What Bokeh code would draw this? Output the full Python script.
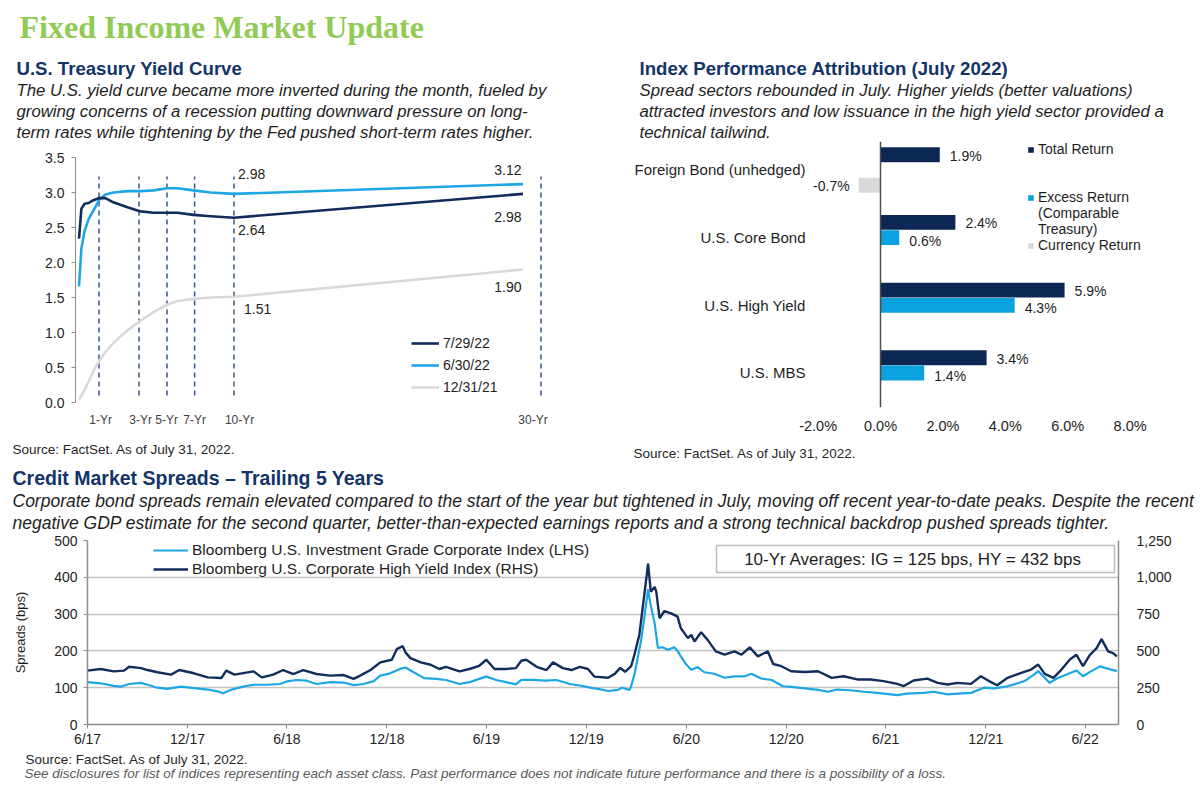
import datetime as dt
import pandas as pd
from bokeh.plotting import figure
from bokeh.layouts import column, row
from bokeh.models import (ColumnDataSource, Title, Legend, LegendItem, FixedTicker, Span,
                          LinearAxis, Range1d, NumeralTickFormatter, PrintfTickFormatter,
                          Label, BoxAnnotation)
from bokeh.core.properties import value
from bokeh.embed import file_html
from bokeh.resources import INLINE

# ---------------------------------------------------------------- data
# U.S. Treasury yield curve (x = position along the chart's maturity axis)
curve_pos = [0, 0.12, 0.28, 0.48, 0.72, 1.02, 1.32, 1.72, 2.42, 3.08, 3.72, 4.42, 4.92, 5.72, 6.58, 7.75, 22.2]
yc_072922 = [2.34, 2.77, 2.84, 2.85, 2.89, 2.92, 2.92, 2.86, 2.79, 2.73, 2.71, 2.71, 2.71, 2.68, 2.66, 2.64, 2.98]
yc_063022 = [1.66, 2.20, 2.45, 2.62, 2.74, 2.90, 2.97, 3.00, 3.02, 3.02, 3.03, 3.06, 3.06, 3.03, 3.00, 2.98, 3.12]
yc_123121 = [0.04, 0.10, 0.18, 0.30, 0.45, 0.60, 0.72, 0.85, 1.03, 1.17, 1.29, 1.40, 1.45, 1.48, 1.50, 1.51, 1.90]
curve_names = ["7/29/22", "6/30/22", "12/31/21"]
tenor_labels = ["1-Yr", "3-Yr", "5-Yr", "7-Yr", "10-Yr", "30-Yr"]
tenor_pos = [1.0, 3.0, 4.4, 5.78, 7.75, 23.1]          # dashed marker lines
tenor_label_pos = [1.08, 3.08, 4.38, 5.78, 8.03, 22.7]  # where the axis labels sit
labelled_points = [15, 16]          # 10-Yr and 30-Yr points carry value labels
yc_ticks = [0.0, 0.5, 1.0, 1.5, 2.0, 2.5, 3.0, 3.5]

# Index performance attribution (July 2022), %
categories = ["Foreign Bond (unhedged)", "U.S. Core Bond", "U.S. High Yield", "U.S. MBS"]
total_return = [1.9, 2.4, 5.9, 3.4]
excess_return = [None, 0.6, 4.3, 1.4]
currency_return = [-0.7, None, None, None]
attr_ticks = [-2, 0, 2, 4, 6, 8]

# Credit market spreads (bps)
ig_dates = ["2017-06-01", "2017-06-25", "2017-07-19", "2017-08-01", "2017-08-16", "2017-09-07", "2017-09-19",
            "2017-10-07", "2017-10-25", "2017-11-19", "2017-12-13", "2018-01-07", "2018-01-25", "2018-02-04",
            "2018-02-18", "2018-03-13", "2018-04-01", "2018-04-25", "2018-05-19", "2018-06-01", "2018-06-19",
            "2018-07-07", "2018-07-25", "2018-08-19", "2018-09-13", "2018-10-01", "2018-10-19", "2018-11-07",
            "2018-11-19", "2018-12-07", "2018-12-25", "2019-01-04", "2019-01-19", "2019-02-07", "2019-03-01",
            "2019-03-19", "2019-04-13", "2019-05-01", "2019-05-19", "2019-06-01", "2019-06-19", "2019-07-07",
            "2019-07-25", "2019-08-04", "2019-08-25", "2019-09-19", "2019-10-07", "2019-11-01", "2019-11-19",
            "2019-12-13", "2019-12-25", "2020-01-10", "2020-01-28", "2020-02-04", "2020-02-18", "2020-02-21",
            "2020-02-27", "2020-03-04", "2020-03-10", "2020-03-16", "2020-03-23", "2020-03-26", "2020-03-31",
            "2020-04-04", "2020-04-10", "2020-04-19", "2020-04-28", "2020-05-10", "2020-05-16", "2020-05-22",
            "2020-06-01", "2020-06-10", "2020-06-22", "2020-07-04", "2020-07-22", "2020-08-10", "2020-08-28",
            "2020-09-16", "2020-09-28", "2020-10-16", "2020-11-04", "2020-11-25", "2020-12-10", "2021-01-04",
            "2021-01-28", "2021-02-15", "2021-03-04", "2021-03-28", "2021-04-22", "2021-05-16", "2021-06-10",
            "2021-06-22", "2021-07-10", "2021-08-10", "2021-08-28", "2021-09-22", "2021-10-10", "2021-11-04",
            "2021-11-28", "2021-12-16", "2022-01-04", "2022-01-22", "2022-02-10", "2022-02-28", "2022-03-07",
            "2022-03-19", "2022-03-28", "2022-04-10", "2022-04-28", "2022-05-16", "2022-05-28", "2022-06-10",
            "2022-06-28", "2022-07-07", "2022-07-19", "2022-07-29"]
ig_spread = [115, 112, 105, 103, 110, 113, 108,
             100, 97, 103, 99, 95, 90, 85,
             94, 103, 108, 108, 110, 117, 121,
             119, 110, 115, 114, 107, 110, 118,
             133, 139, 151, 155, 142, 126, 124,
             121, 110, 115, 124, 130, 121, 115,
             109, 121, 121, 119, 121, 110, 106,
             99, 96, 91, 94, 100, 94, 104,
             136, 181, 226, 289, 368, 338, 302,
             275, 208, 210, 203, 210, 200, 185,
             163, 149, 156, 142, 138, 127, 131,
             131, 138, 125, 121, 104, 102, 98,
             94, 89, 95, 93, 89, 86, 82,
             80, 84, 86, 89, 82, 84, 86,
             100, 98, 102, 109, 118, 136, 145,
             127, 113, 125, 136, 147, 131, 143,
             158, 154, 149, 145]

hy_dates = ["2017-06-01", "2017-06-25", "2017-07-19", "2017-08-07", "2017-08-16", "2017-09-07", "2017-09-19",
            "2017-10-07", "2017-11-01", "2017-11-16", "2017-12-13", "2018-01-07", "2018-02-01", "2018-02-10",
            "2018-02-25", "2018-04-01", "2018-04-16", "2018-05-07", "2018-05-25", "2018-06-13", "2018-07-01",
            "2018-07-25", "2018-08-19", "2018-09-13", "2018-10-01", "2018-10-13", "2018-11-01", "2018-11-19",
            "2018-12-10", "2018-12-19", "2018-12-30", "2019-01-04", "2019-01-13", "2019-02-01", "2019-02-19",
            "2019-03-07", "2019-03-19", "2019-04-13", "2019-05-01", "2019-05-19", "2019-06-01", "2019-06-16",
            "2019-07-07", "2019-07-25", "2019-08-04", "2019-08-13", "2019-09-01", "2019-09-19", "2019-10-01",
            "2019-10-19", "2019-11-04", "2019-11-19", "2019-12-04", "2019-12-16", "2020-01-10", "2020-01-22",
            "2020-02-01", "2020-02-10", "2020-02-21", "2020-02-27", "2020-03-07", "2020-03-13", "2020-03-19",
            "2020-03-23", "2020-03-28", "2020-04-04", "2020-04-07", "2020-04-13", "2020-04-22", "2020-05-04",
            "2020-05-16", "2020-05-22", "2020-06-04", "2020-06-10", "2020-06-16", "2020-06-28", "2020-07-10",
            "2020-07-25", "2020-08-10", "2020-08-28", "2020-09-10", "2020-09-25", "2020-10-10", "2020-10-28",
            "2020-11-07", "2020-11-22", "2020-12-10", "2021-01-04", "2021-01-28", "2021-02-22", "2021-03-16",
            "2021-04-10", "2021-05-04", "2021-05-28", "2021-06-22", "2021-07-04", "2021-07-22", "2021-08-16",
            "2021-09-04", "2021-09-22", "2021-10-10", "2021-11-04", "2021-11-22", "2021-12-07", "2021-12-22",
            "2022-01-10", "2022-02-04", "2022-02-22", "2022-03-07", "2022-03-19", "2022-04-04", "2022-04-16",
            "2022-05-04", "2022-05-16", "2022-05-28", "2022-06-10", "2022-06-22", "2022-07-01", "2022-07-13",
            "2022-07-22", "2022-07-29"]
hy_spread = [366, 377, 361, 366, 392, 383, 370,
             355, 339, 370, 348, 320, 316, 366,
             339, 361, 320, 339, 370, 343, 370,
             343, 332, 336, 310, 332, 370, 422,
             440, 512, 532, 490, 451, 422, 406,
             377, 392, 361, 377, 399, 440, 377,
             377, 383, 433, 440, 392, 370, 422,
             383, 370, 392, 377, 325, 318, 344,
             385, 358, 396, 474, 609, 789, 969,
             1093, 902, 935, 902, 722, 771, 755,
             733, 654, 587, 609, 564, 627, 575,
             497, 474, 497, 474, 524, 463, 497,
             411, 396, 362, 357, 362, 317, 328,
             306, 306, 295, 276, 261, 299, 312,
             283, 272, 283, 276, 328, 295, 267,
             317, 351, 373, 407, 344, 317, 362,
             441, 474, 396, 474, 519, 580, 497,
             485, 463]
spread_tick_dates = ["2017-06-01", "2017-12-01", "2018-06-01", "2018-12-01", "2019-06-01", "2019-12-01",
                     "2020-06-01", "2020-12-01", "2021-06-01", "2021-12-01", "2022-06-01"]
spread_tick_labels = ["6/17", "12/17", "6/18", "12/18", "6/19", "12/19", "6/20", "12/20", "6/21", "12/21", "6/22"]
ig_ticks = [0, 100, 200, 300, 400, 500]
hy_ticks = [0, 250, 500, 750, 1000, 1250]

# ---------------------------------------------------------------- styles
FONT = "Liberation Sans"
NARROW = "'Liberation Sans Narrow', 'Liberation Sans', sans-serif"
SERIF = "'Liberation Serif', serif"
GREEN = "#8FCB55"
HEAD = "#123468"
TXT = "#1E1E1E"
SRC = "#262626"
NAVY = "#112D5C"
BLUE = "#1CA6E3"
LGRAY = "#D9D9D9"
BAR_NAVY = "#0C2754"
BAR_BLUE = "#0AA1DE"
AXIS = "#8C8C8C"
GRID = "#C4C4C4"


def txt(p, text, size, place="above", style="normal", color=TXT, font=FONT, offset=0, standoff=0):
    p.add_layout(Title(text=text, text_font_size=f"{size}px", text_font_style=style,
                       text_color=color, text_font=font, offset=offset, standoff=standoff,
                       align="left"), place)


def gap(p, px, place="above"):
    p.add_layout(Title(text=" ", text_font_size="1px", standoff=px), place)


def base_fig(**kw):
    p = figure(output_backend="svg", toolbar_location=None, **kw)
    p.title.text = ""
    p.title.visible = False
    p.outline_line_color = None
    p.background_fill_color = "white"
    p.border_fill_color = "white"
    return p


# ================================================================ 1. yield curve
p1 = base_fig(width=600, height=462, x_range=Range1d(-0.175, 24.825), y_range=Range1d(-0.0714, 3.7286),
              min_border_left=75, min_border_right=25, min_border_top=141, min_border_bottom=55)
p1.grid.visible = False

p1.segment(x0=tenor_pos, x1=tenor_pos, y0=[0.1] * len(tenor_pos), y1=[3.23] * len(tenor_pos),
           line_color="#34568A", line_width=1.5, line_dash="5 4")

curves = [(yc_072922, NAVY), (yc_063022, BLUE), (yc_123121, LGRAY)]
curve_rs = []
for vals, color in curves[::-1]:
    r = p1.line(curve_pos, vals, line_color=color, line_width=2.6, line_join="round")
    curve_rs.insert(0, r)

# value labels at 10-Yr and 30-Yr
lab_dx = {15: [4, 4, 10], 16: [-1.5, -1.5, -1.5]}
lab_dy = {15: [12, -20, 12], 16: [23, -14, 17]}
for idx in labelled_points:
    align = "left" if idx == labelled_points[0] else "right"
    xs = [curve_pos[idx]] * 3
    ys = [c[0][idx] for c in curves]
    p1.text(x=xs, y=ys, text=[f"{v:.2f}" for v in ys], text_align=align, text_baseline="middle",
            x_offset=lab_dx[idx], y_offset=lab_dy[idx], text_font=value(FONT),
            text_font_size="14px", text_color=TXT)

ya = p1.yaxis[0]
ya.ticker = FixedTicker(ticks=yc_ticks)
ya.bounds = (yc_ticks[0], yc_ticks[-1])
ya.formatter = PrintfTickFormatter(format="%.1f")
ya.axis_line_color = AXIS
ya.major_tick_line_color = AXIS
ya.major_tick_out = 4
ya.major_tick_in = 0
ya.minor_tick_line_color = None
ya.major_label_text_font = FONT
ya.major_label_text_font_size = "14px"
ya.major_label_text_color = TXT
ya.major_label_standoff = 7

xa = p1.xaxis[0]
xa.ticker = FixedTicker(ticks=tenor_label_pos)
xa.major_label_overrides = {pos: lab for pos, lab in zip(tenor_label_pos, tenor_labels)}
xa.axis_line_color = None
xa.major_tick_line_color = None
xa.major_tick_out = 0
xa.major_tick_in = 0
xa.minor_tick_line_color = None
xa.major_label_text_font = NARROW
xa.major_label_text_font_size = "12px"
xa.major_label_text_color = "#404040"
xa.major_label_standoff = 5

leg1 = Legend(items=[LegendItem(label=n, renderers=[r]) for n, r in zip(curve_names, curve_rs)],
              location=(336, 10), label_text_font=FONT, label_text_font_size="14px",
              label_text_color=TXT, glyph_width=28, glyph_height=20, label_height=20, spacing=2,
              label_standoff=4, padding=0, margin=0, border_line_alpha=0, background_fill_alpha=0)
p1.add_layout(leg1)

# texts (above: innermost first)
txt(p1, "term rates while tightening by the Fed pushed short-term rates higher.", 16.75, style="italic", offset=-59)
txt(p1, "growing concerns of a recession putting downward pressure on long-", 16.75, style="italic", offset=-59)
txt(p1, "The U.S. yield curve became more inverted during the month, fueled by", 16.75, style="italic", offset=-59)
txt(p1, "U.S. Treasury Yield Curve", 18.6, style="bold", color=HEAD, offset=-59)
gap(p1, 7.75)
txt(p1, "Fixed Income Market Update", 32, style="bold", color=GREEN, font=SERIF, offset=-56)
gap(p1, 7, "below")
txt(p1, "Source: FactSet. As of July 31, 2022.", 13.5, place="below", color=SRC, offset=-63)

# ================================================================ 2. attribution bars
p2 = base_fig(width=600, height=462, x_range=Range1d(-2.404, 9.615), y_range=Range1d(-0.51, 3.421),
              min_border_left=205, min_border_right=20, min_border_top=141, min_border_bottom=55)
p2.grid.visible = False

cat_y = [len(categories) - 1 - i for i in range(len(categories))]
BAR_H = 0.22
series = [("Total Return", total_return, BAR_NAVY, 0.225, 1),
          ("Excess Return", excess_return, BAR_BLUE, 0.0, 3),
          ("Currency Return", currency_return, LGRAY, -0.225, 1)]
bar_rs = {}
for name, vals, color, dy, ldy in series:
    ys = [cy + dy for cy, v in zip(cat_y, vals) if v is not None]
    xs = [v for v in vals if v is not None]
    r = p2.hbar(y=ys, left=0, right=xs, height=BAR_H, fill_color=color, line_color=None)
    bar_rs[name] = r
    for positive, align, xo in ((True, "left", 10), (False, "right", -9)):
        sel = [(y, v) for y, v in zip(ys, xs) if (v >= 0) == positive]
        if sel:
            p2.text(x=[v for _, v in sel], y=[y for y, _ in sel], text=[f"{v:.1f}%" for _, v in sel],
                    text_align=align, text_baseline="middle", x_offset=xo, y_offset=ldy,
                    text_font=value(FONT), text_font_size="14px", text_color=TXT)

p2.add_layout(Span(location=0, dimension="height", line_color="#4D4D4D", line_width=1.5))

xa2 = p2.xaxis[0]
xa2.ticker = FixedTicker(ticks=attr_ticks)
xa2.formatter = PrintfTickFormatter(format="%.1f%%")
xa2.axis_line_color = None
xa2.major_tick_line_color = None
xa2.major_tick_out = 0
xa2.major_tick_in = 0
xa2.minor_tick_line_color = None
xa2.major_label_text_font = FONT
xa2.major_label_text_font_size = "14.5px"
xa2.major_label_text_color = TXT
xa2.major_label_standoff = 10

ya2 = p2.yaxis[0]
ya2.ticker = FixedTicker(ticks=cat_y)
ya2.major_label_overrides = {cy: c for cy, c in zip(cat_y, categories)}
ya2.axis_line_color = None
ya2.major_tick_line_color = None
ya2.major_tick_out = 0
ya2.major_tick_in = 0
ya2.minor_tick_line_color = None
ya2.major_label_text_font = FONT
ya2.major_label_text_font_size = "15px"
ya2.major_label_text_color = TXT
ya2.major_label_standoff = 0

blank = p2.hbar(y=[], left=0, right=[], height=BAR_H, fill_alpha=0, line_alpha=0)
leg2_items = [("Total Return", bar_rs["Total Return"]), (" ", blank), ("  ", blank),
              ("Excess Return", bar_rs["Excess Return"]), ("(Comparable", blank), ("Treasury)", blank),
              ("Currency Return", bar_rs["Currency Return"])]
leg2 = Legend(items=[LegendItem(label=l, renderers=[r]) for l, r in leg2_items],
              location=(222, 154), label_text_font=FONT, label_text_font_size="14px",
              label_text_color=TXT, glyph_width=7, glyph_height=7, label_height=16, spacing=0,
              label_standoff=4, padding=0, margin=0, border_line_alpha=0, background_fill_alpha=0)
p2.add_layout(leg2)

txt(p2, "technical tailwind.", 16.75, style="italic", offset=-166)
txt(p2, "attracted investors and low issuance in the high yield sector provided a", 16.75, style="italic",
    offset=-166)
txt(p2, "Spread sectors rebounded in July. Higher yields (better valuations)", 16.75, style="italic",
    offset=-166)
txt(p2, "Index Performance Attribution (July 2022)", 18.6, style="bold", color=HEAD, offset=-166)
gap(p2, 4, "below")
txt(p2, "Source: FactSet. As of July 31, 2022.", 13.5, place="below", color=SRC, offset=-172)

# ================================================================ 3. credit spreads
ig_src = ColumnDataSource(dict(date=pd.to_datetime(ig_dates), v=ig_spread))
hy_src = ColumnDataSource(dict(date=pd.to_datetime(hy_dates), v=hy_spread))

p3 = base_fig(width=1200, height=326, x_axis_type="datetime",
              x_range=Range1d(dt.datetime(2017, 6, 1), dt.datetime(2022, 8, 1)),
              y_range=Range1d(0, 500),
              min_border_left=87, min_border_right=82, min_border_top=78, min_border_bottom=64)
p3.extra_y_ranges = {"hy": Range1d(0, 1250)}
p3.xgrid.visible = False
p3.ygrid.grid_line_color = GRID
p3.ygrid.grid_line_width = 1.5
p3.ygrid.ticker = FixedTicker(ticks=ig_ticks)

r_ig = p3.line("date", "v", source=ig_src, line_color=BLUE, line_width=2.2)
r_hy = p3.line("date", "v", source=hy_src, line_color=NAVY, line_width=2.4, y_range_name="hy")

tick_ms = [pd.Timestamp(d).value // 10**6 for d in spread_tick_dates]
xa3 = p3.xaxis[0]
xa3.ticker = FixedTicker(ticks=tick_ms)
xa3.major_label_overrides = {t: l for t, l in zip(tick_ms, spread_tick_labels)}
xa3.axis_line_color = AXIS
xa3.axis_line_width = 1.5
xa3.major_tick_line_color = AXIS
xa3.major_tick_out = 4
xa3.major_tick_in = 0
xa3.minor_tick_line_color = None
xa3.major_label_text_font = FONT
xa3.major_label_text_font_size = "14px"
xa3.major_label_text_color = TXT
xa3.major_label_standoff = 2

ya3 = p3.yaxis[0]
ya3.ticker = FixedTicker(ticks=ig_ticks)
ya3.axis_line_color = AXIS
ya3.axis_line_width = 1.5
ya3.major_tick_line_color = AXIS
ya3.major_tick_out = 4
ya3.major_tick_in = 0
ya3.minor_tick_line_color = None
ya3.major_label_text_font = FONT
ya3.major_label_text_font_size = "14px"
ya3.major_label_text_color = TXT
ya3.major_label_standoff = 6
ya3.axis_label = "Spreads (bps)"
ya3.axis_label_text_font = FONT
ya3.axis_label_text_font_size = "13px"
ya3.axis_label_text_font_style = "normal"
ya3.axis_label_text_color = TXT
ya3.axis_label_standoff = 23

ra = LinearAxis(y_range_name="hy", ticker=FixedTicker(ticks=hy_ticks),
                formatter=NumeralTickFormatter(format="0,0"))
ra.axis_line_color = AXIS
ra.axis_line_width = 1.5
ra.major_tick_line_color = None
ra.minor_tick_line_color = None
ra.major_label_text_font = FONT
ra.major_label_text_font_size = "14px"
ra.major_label_text_color = TXT
ra.major_label_standoff = 12
p3.add_layout(ra, "right")

leg3 = Legend(items=[LegendItem(label="Bloomberg U.S. Investment Grade Corporate Index (LHS)", renderers=[r_ig]),
                     LegendItem(label="Bloomberg U.S. Corporate High Yield Index (RHS)", renderers=[r_hy])],
              location=(66, 146), label_text_font=FONT, label_text_font_size="15.5px",
              label_text_color=TXT, glyph_width=35, glyph_height=18, label_height=18, spacing=1,
              label_standoff=4, padding=0, margin=0, border_line_alpha=0, background_fill_alpha=0)
p3.add_layout(leg3)

p3.add_layout(BoxAnnotation(left=629, right=1027, bottom=152, top=179, left_units="screen",
                            right_units="screen", bottom_units="screen", top_units="screen",
                            fill_alpha=0, line_color="#262626", line_width=1.5))
p3.add_layout(Label(x=828, y=165, x_units="screen", y_units="screen",
                    text="10-Yr Averages:  IG = 125 bps, HY = 432 bps", text_align="center",
                    text_baseline="middle", text_font=FONT, text_font_size="17px", text_color=TXT))

gap(p3, 4.5)
txt(p3, "negative GDP estimate for the second quarter, better-than-expected earnings reports and a strong "
        "technical backdrop pushed spreads tighter.", 17.5, style="italic", offset=-75)
txt(p3, "Corporate bond spreads remain elevated compared to the start of the year but tightened in July, "
        "moving off recent year-to-date peaks. Despite the recent", 17.5, style="italic", offset=-75)
txt(p3, "Credit Market Spreads \u2013 Trailing 5 Years", 19.5, style="bold", color=HEAD, offset=-75)
txt(p3, "Source: FactSet. As of July 31, 2022.", 13.5, place="below", color=SRC, offset=-62)
txt(p3, "See disclosures for list of indices representing each asset class. Past performance does not "
        "indicate future performance and there is a possibility of a loss.", 13.5, place="below",
    style="italic", color="#595959", offset=-63, standoff=-6)

layout = column(row(p1, p2), p3)
open("out.html", "w").write(file_html(layout, INLINE))
